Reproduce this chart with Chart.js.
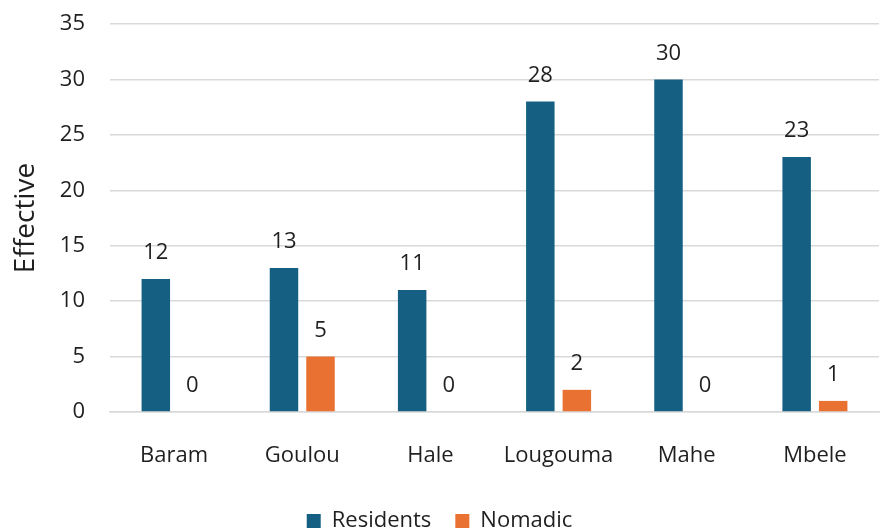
<!DOCTYPE html>
<html>
<head>
<meta charset="utf-8">
<script src="https://cdn.jsdelivr.net/npm/chart.js@4/dist/chart.umd.min.js"></script>
<style>
  html, body { margin: 0; padding: 0; background: #ffffff; }
  #wrap { width: 880px; height: 530px; }
</style>
</head>
<body>
<div id="wrap"><canvas id="c" width="880" height="530"></canvas></div>
<script>
const categories = ["Baram", "Goulou", "Hale", "Lougouma", "Mahe", "Mbele"];
const residents = [12, 13, 11, 28, 30, 23];
const nomadic = [0, 5, 0, 2, 0, 1];
const yTicks = [0, 5, 10, 15, 20, 25, 30, 35];

const FONT = "'Open Sans', 'Noto Sans', sans-serif";
const TEXT = "#1f1f1f";

// Writes each bar's value just above its top
const valueLabels = {
  id: "valueLabels",
  afterDatasetsDraw(chart) {
    const ctx = chart.ctx;
    ctx.save();
    ctx.font = "22px " + FONT;
    ctx.fillStyle = TEXT;
    ctx.textAlign = "center";
    ctx.textBaseline = "middle";
    chart.data.datasets.forEach((ds, i) => {
      chart.getDatasetMeta(i).data.forEach((bar, j) => {
        ctx.fillText(String(ds.data[j]), bar.x, bar.y - 26);
      });
    });
    ctx.restore();
  }
};

new Chart(document.getElementById("c"), {
  type: "bar",
  data: {
    labels: categories,
    datasets: [
      { label: "Residents", data: residents, backgroundColor: "#156082" },
      { label: "Nomadic", data: nomadic, backgroundColor: "#E97132" }
    ]
  },
  options: {
    responsive: false,
    animation: false,
    devicePixelRatio: 1,
    layout: { padding: { left: 0, right: 1, top: 24, bottom: -12 } },
    datasets: { bar: { categoryPercentage: 0.57, barPercentage: 0.78 } },
    scales: {
      x: {
        grid: { display: false, drawTicks: false },
        border: { display: true, color: "#d9d9d9", width: 1.5 },
        ticks: { color: TEXT, font: { family: FONT, size: 22 }, padding: 31 },
        afterFit(scale) { scale.height = 74; }
      },
      y: {
        min: 0,
        max: 35,
        afterBuildTicks(scale) { scale.ticks = yTicks.map(v => ({ value: v })); },
        grid: { color: "#d9d9d9", lineWidth: 1.5, drawTicks: false },
        border: { display: false },
        ticks: { color: TEXT, font: { family: FONT, size: 22 }, padding: 25 },
        title: { display: true, text: "Effective", color: TEXT, font: { family: FONT, size: 28 }, padding: { top: 9, bottom: 0 } },
        afterFit(scale) {
          scale.width = 110;
          scale.paddingTop = 0;
          scale.paddingBottom = 0;
        }
      }
    },
    plugins: {
      legend: {
        position: "bottom",
        labels: {
          color: TEXT,
          font: { family: FONT, size: 22 },
          boxWidth: 14,
          boxHeight: 14,
          padding: 24
        }
      },
      tooltip: { enabled: false }
    }
  },
  plugins: [valueLabels]
});
</script>
</body>
</html>
